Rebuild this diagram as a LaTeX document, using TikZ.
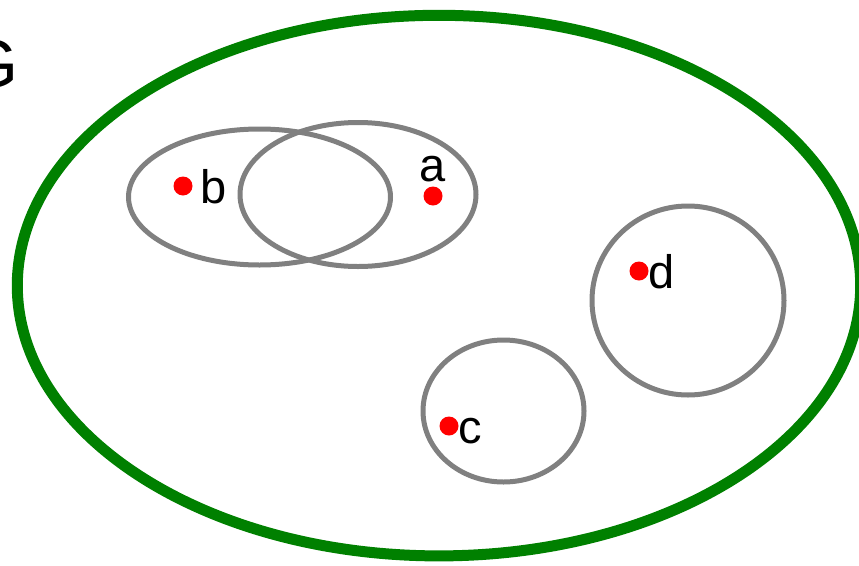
\documentclass[tikz,border=0pt]{standalone}
\usepackage{fontspec}
\setmainfont{Liberation Sans}
\usetikzlibrary{positioning}
\definecolor{setG}{RGB}{0,128,0}
\definecolor{setR}{RGB}{255,0,0}
\definecolor{setK}{RGB}{128,128,128}

\begin{document}
\begin{tikzpicture}[x=1pt,y=-1pt,
  pt/.style={circle,fill=setR,inner sep=0pt,minimum size=19pt},
  lbl/.style={inner sep=0pt,font=\fontsize{47}{50}\selectfont,text height=34pt,text depth=0pt},
  sub/.style={setK,line width=5pt}]
\useasboundingbox (0,0) rectangle (859,565);
\draw[setG,line width=11pt] (439,285.6) ellipse (421.7 and 270.3);
\node[anchor=base east,inner sep=0pt,font=\fontsize{68}{70}\selectfont] (G) at (18.5,87) {G};
% subsets
\draw[sub] (259.5,197) ellipse (131 and 68);
\draw[sub] (358,194.5) ellipse (118 and 72);
\draw[sub] (688,300.5) ellipse (96 and 94.5);
\draw[sub] (503.5,411) ellipse (80.5 and 71);
% elements
\node[pt] (b) at (183,186) {};
\node[pt] (a) at (433,196) {};
\node[pt] (d) at (639,271) {};
\node[pt] (c) at (449,426) {};
\node[lbl,right=8pt of b] (lb) {b};
\node[lbl,above=4pt of a,text height=,text depth=] (la) {a};
\node[lbl,right=0pt of d] (ld) {d};
\node[lbl,right=0pt of c] (lc) {c};
\end{tikzpicture}
\end{document}
